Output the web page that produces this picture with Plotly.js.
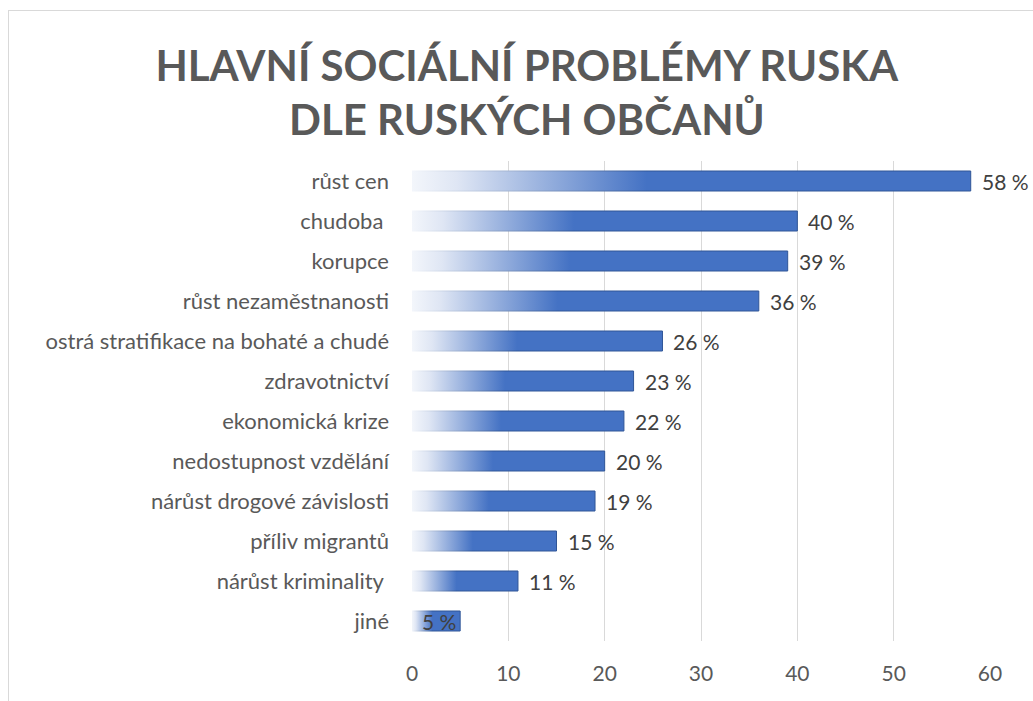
<!DOCTYPE html>
<html>
<head>
<meta charset="utf-8">
<script src="https://cdn.plot.ly/plotly-3.0.1.min.js"></script>
<style>
  html, body { margin: 0; padding: 0; background: #ffffff; overflow: hidden; }
  #frame { position: absolute; left: 8px; top: 10px; width: 1100px; height: 760px; border: 1px solid #d9d9d9; }
  #chart { position: absolute; left: 0; top: 0; width: 1033px; height: 701px; }
</style>
</head>
<body>
<div id="frame"></div>
<div id="chart"></div>
<script>
// Data (top to bottom as in the reference)
const categories = [
  "růst cen",
  "chudoba\u00a0",
  "korupce",
  "růst nezaměstnanosti",
  "ostrá stratifikace na bohaté a chudé",
  "zdravotnictví",
  "ekonomická krize",
  "nedostupnost vzdělání",
  "nárůst drogové závislosti",
  "příliv migrantů",
  "nárůst kriminality\u00a0",
  "jiné"
];
const values = [58, 40, 39, 36, 26, 23, 22, 20, 19, 15, 11, 5];
const xTicks = [0, 10, 20, 30, 40, 50, 60];
const titleLines = ["HLAVNÍ SOCIÁLNÍ PROBLÉMY RUSKA", "DLE RUSKÝCH OBČANŮ"];

const FONT = "Lato, 'Open Sans', sans-serif";

const trace = {
  type: "bar",
  orientation: "h",
  x: values,
  y: categories,
  width: 0.5,
  marker: { color: "#4472C4", line: { color: "#2F5597", width: 1 } },
  hoverinfo: "none"
};

const annotations = values.map((v, i) => {
  const inside = v < 8;
  return {
    x: v, y: categories[i], xref: "x", yref: "y",
    text: v + " %",
    showarrow: false,
    xanchor: inside ? "right" : "left",
    xshift: inside ? -2 : 9,
    font: { family: FONT, size: 21, color: "#404040" }
  };
});

const layout = {
  width: 1033, height: 701,
  paper_bgcolor: "rgba(0,0,0,0)",
  plot_bgcolor: "rgba(0,0,0,0)",
  margin: { l: 412, r: 43, t: 161, b: 60 },
  showlegend: false,
  title: {
    text: titleLines.join("<br>"),
    font: { family: FONT, size: 42, color: "#595959", weight: 700 },
    x: 0.51, xref: "container", xanchor: "center",
    y: 0.885, yref: "container", yanchor: "top"
  },
  xaxis: {
    range: [0, 60],
    tickvals: xTicks,
    showgrid: true, gridcolor: "#d9d9d9", gridwidth: 1,
    zeroline: false, showline: false,
    ticks: "",
    ticklabelstandoff: 18,
    tickfont: { family: FONT, size: 21, color: "#595959" },
    fixedrange: true
  },
  yaxis: {
    autorange: "reversed",
    showgrid: false, zeroline: false, showline: false,
    ticks: "",
    ticklabelstandoff: 22,
    tickfont: { family: FONT, size: 22, color: "#595959" },
    fixedrange: true
  },
  annotations: annotations
};

Plotly.newPlot("chart", [trace], layout, { displayModeBar: false, staticPlot: true }).then(gd => {
  const svg = gd.querySelector("svg.main-svg");
  const ns = "http://www.w3.org/2000/svg";
  let defs = svg.querySelector("defs");
  if (!defs) { defs = document.createElementNS(ns, "defs"); svg.insertBefore(defs, svg.firstChild); }
  function grad(id, stops) {
    const g = document.createElementNS(ns, "linearGradient");
    g.setAttribute("id", id);
    g.setAttribute("x1", "0"); g.setAttribute("y1", "0");
    g.setAttribute("x2", "1"); g.setAttribute("y2", "0");
    stops.forEach(([o, c]) => {
      const s = document.createElementNS(ns, "stop");
      s.setAttribute("offset", o); s.setAttribute("stop-color", c);
      g.appendChild(s);
    });
    defs.appendChild(g);
  }
  grad("barFill", [["0", "#f3f6fb"], ["0.08", "#dfe6f4"], ["0.42", "#4472C4"], ["1", "#4472C4"]]);
  grad("barEdge", [["0", "#f3f6fb"], ["0.42", "#2F5597"], ["1", "#2F5597"]]);
  gd.querySelectorAll(".trace.bars .point path").forEach(p => {
    p.style.fill = "url(#barFill)";
    p.style.stroke = "url(#barEdge)";
  });
});
</script>
</body>
</html>
